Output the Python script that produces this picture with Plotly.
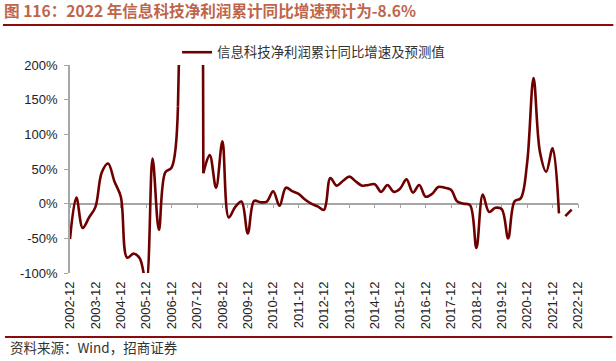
import plotly.graph_objects as go

# ---- data ----
years = list(range(2002, 2023))
quarters = []
for y in range(2002, 2023):
    for m in (3, 6, 9, 12):
        if y == 2002 and m != 12:
            continue
        quarters.append(f"{y}-{m:02d}")
tick_labels = [f"{y}-12" for y in years]

y_tick_values = [-100, -50, 0, 50, 100, 150, 200]
y_tick_labels = ["-100%", "-50%", "0%", "50%", "100%", "150%", "200%"]

actual_values = [
    -51, 9, -35, -20, -5, 45, 58, 32, 10, -78,
    -72, -79, -115, 65, -38, 45, 52, 140, 340, 1000,
    3300, 44, 70, 23, 90, -20, -5, 3, -43, 4,
    2, 3, 18, -3, 23, 18, 14, 6, 0, -4,
    -9, 37, 26, 33, 39, 32, 26, 27, 28, 17,
    27, 17, 22, 35, 16, 27, 10, 14, 24, 23,
    20, 3, 0, -2, -64, 13, -12, -6, -8, -50,
    3, 8, 60, 181, 75, 46, 80, -14,
]
actual_x = quarters[:len(actual_values)]
forecast_x = ["2022-06", "2022-09"]
forecast_values = [-18, -8.6]

series_name = "信息科技净利润累计同比增速及预测值"
title_text = "图 116：2022 年信息科技净利润累计同比增速预计为-8.6%"
source_text = "资料来源：Wind，招商证券"

# ---- geometry helpers ----
W, H = 616, 361
L, R, T, B = 70, 577.7, 65, 273


def px_x(p):
    return (p - L) / (R - L)


def px_y(p):
    return (B - p) / (B - T)


line_color = "#6E0000"
axis_gray = "#A6A6A6"

# the off-scale 2006-2007 spike is drawn with straight segments,
# the rest of the series is smoothed
s1, s2 = 17, 21
segments = [
    (0, s1 + 1, "spline", True),
    (s1, s2 + 1, "linear", False),
    (s2, len(actual_values), "spline", False),
]

fig = go.Figure()
for a, b, shape, show in segments:
    fig.add_trace(go.Scatter(
        x=actual_x[a:b], y=actual_values[a:b], mode="lines", name=series_name,
        line=dict(color=line_color, width=2.6, shape=shape, smoothing=1.0),
        showlegend=show, legendgroup="s",
    ))
fig.add_trace(go.Scatter(
    x=forecast_x, y=forecast_values, mode="lines", name=series_name,
    line=dict(color=line_color, width=2.6),
    showlegend=False, legendgroup="s", xaxis="x2",
))

fig.update_layout(
    width=W, height=H,
    margin=dict(l=L, r=W - R, t=T, b=H - B, pad=0),
    paper_bgcolor="white", plot_bgcolor="white",
    font=dict(family="Liberation Sans, Arial, sans-serif", size=13, color="#222222"),
    title=dict(
        text=title_text, xref="container", yref="container",
        x=4 / W, y=1 - 12 / H, xanchor="left", yanchor="middle",
        font=dict(family="Noto Sans CJK SC, sans-serif", size=15.6, color="#C0654A", weight="bold"),
    ),
    xaxis=dict(
        type="category", categoryorder="array", categoryarray=quarters,
        range=[0, len(quarters) - 1],
        tickmode="array", tickvals=tick_labels, ticktext=tick_labels,
        tickangle=-90, ticks="", showline=False, showgrid=False, zeroline=False,
        tickfont=dict(family="Liberation Sans, Arial, sans-serif", size=13, color="#222222"),
        ticklabelstandoff=5,
    ),
    xaxis2=dict(
        type="category", categoryorder="array", categoryarray=quarters,
        range=[0, len(quarters) - 1], overlaying="x", anchor="free",
        position=1 / 3, side="bottom",
        tickmode="array", tickvals=tick_labels, showticklabels=False,
        ticks="outside", ticklen=4, tickwidth=1, tickcolor=axis_gray,
        showline=True, linecolor=axis_gray, linewidth=1.6,
        showgrid=False, zeroline=False, layer="below traces",
    ),
    yaxis=dict(
        range=[-100, 200], tickmode="array",
        tickvals=y_tick_values, ticktext=y_tick_labels,
        ticks="outside", ticklen=4, tickcolor=axis_gray,
        showline=True, linecolor=axis_gray, linewidth=1.6,
        showgrid=False, zeroline=False,
        tickfont=dict(family="Liberation Sans, Arial, sans-serif", size=13, color="#222222"),
        ticklabelstandoff=4,
    ),
    legend=dict(
        x=px_x(177), y=px_y(37), xanchor="left", yanchor="top",
        bgcolor="rgba(0,0,0,0)", borderwidth=0,
        font=dict(family="Noto Sans CJK SC, sans-serif", size=13.4, color="#333333"),
        itemwidth=30, tracegroupgap=0,
    ),
    shapes=[
        dict(type="line", xref="paper", yref="paper",
             x0=px_x(3), x1=px_x(613), y0=px_y(25), y1=px_y(25),
             line=dict(color="#8B0A0A", width=2.2)),
        dict(type="line", xref="paper", yref="paper",
             x0=px_x(5), x1=px_x(612), y0=px_y(337), y1=px_y(337),
             line=dict(color="#8B0A0A", width=2.2)),
    ],
    annotations=[
        dict(text=source_text, xref="paper", yref="paper",
             x=px_x(8), y=px_y(347), xanchor="left", yanchor="middle",
             showarrow=False,
             font=dict(family="Noto Sans CJK SC, sans-serif", size=13.5, color="#333333")),
    ],
)

fig.write_html(
    "out.html",
    config={"displayModeBar": False},
    post_script="document.body.style.margin='0';document.body.style.overflow='hidden';",
)
